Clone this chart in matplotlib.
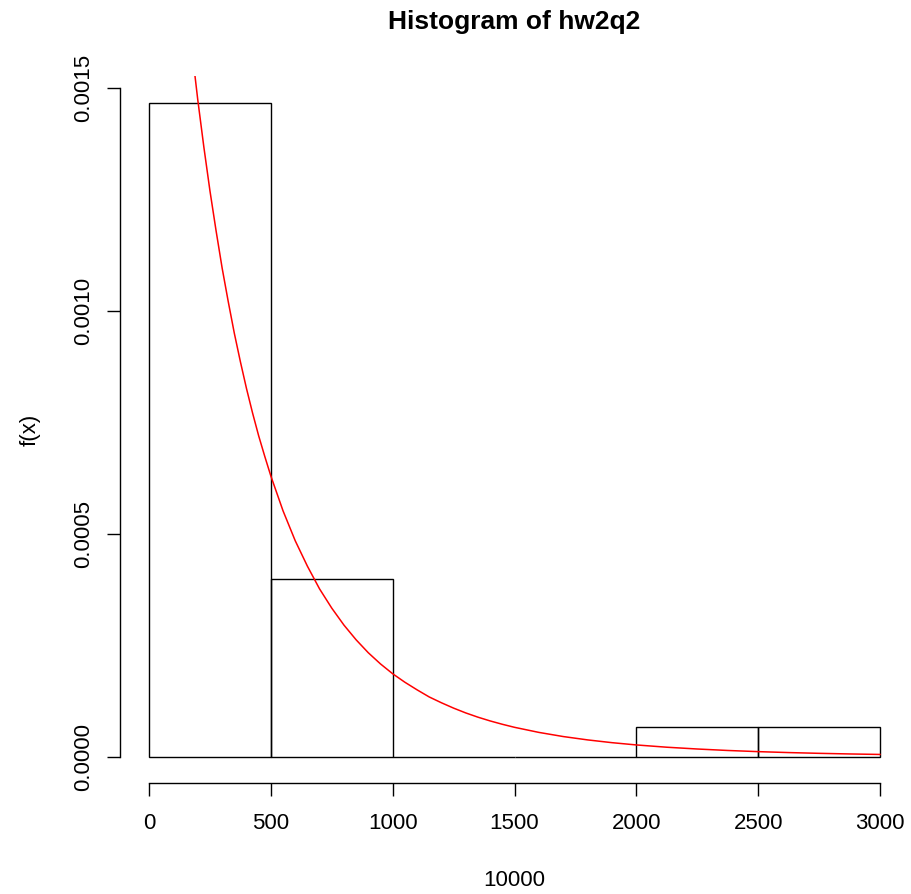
import numpy as np
import matplotlib
matplotlib.use("Agg")
import matplotlib.pyplot as plt

plt.rcParams["font.family"] = ["Liberation Sans", "DejaVu Sans"]

# --- histogram data (hw2q2, n = 30, breaks of 500) ---
breaks = [0, 500, 1000, 1500, 2000, 2500, 3000]
counts = [22, 6, 0, 0, 1, 1]
n_obs = 30

# --- fitted density curve ---
curve_x = [150, 175, 200, 225, 250, 275, 300, 325, 350, 375, 400, 425, 450, 475,
           500, 550, 600, 650, 700, 750, 800, 850, 900, 950, 1000, 1050, 1100,
           1150, 1200, 1250, 1300, 1350, 1400, 1450, 1500, 1600, 1700, 1800,
           1900, 2000, 2125, 2250, 2375, 2500, 2625, 2750, 2875, 3000]
curve_y = [0.001716, 0.001590, 0.001473, 0.001367, 0.001269, 0.001180, 0.001096,
           0.001021, 0.000950, 0.000886, 0.000826, 0.000771, 0.000720, 0.000674,
           0.000630, 0.000552, 0.000485, 0.000428, 0.000377, 0.000334, 0.000296,
           0.000263, 0.000234, 0.000209, 0.000187, 0.000168, 0.000151, 0.000135,
           0.000122, 0.000110, 0.0000992, 0.0000897, 0.0000813, 0.0000738,
           0.0000670, 0.0000556, 0.0000463, 0.0000388, 0.0000326, 0.0000275,
           0.0000224, 0.0000184, 0.0000151, 0.0000125, 0.0000104, 0.0000087,
           0.0000073, 0.0000062]

x_ticks = [0, 500, 1000, 1500, 2000, 2500, 3000]
y_ticks = [0.0, 0.0005, 0.0010, 0.0015]
y_tick_labels = ["0.0000", "0.0005", "0.0010", "0.0015"]

width = breaks[1] - breaks[0]
density = [c / (n_obs * width) for c in counts]

W, H = 911, 894
fig = plt.figure(figsize=(W / 100, H / 100), dpi=100)

# plot region in pixels (R style, 4% padding on each side)
left, right, top, bottom = 119.8, 909.2, 76.4, 783.4
ax = fig.add_axes([left / W, 1 - bottom / H, (right - left) / W, (bottom - top) / H])

ax.bar(breaks[:-1], density, width=width, align="edge", fill=False,
       edgecolor="black", linewidth=1.0)
ax.plot(curve_x, curve_y, color="red", lw=1.1)

ymax = max(density)
ax.set_xlim(-0.04 * 3000, 1.04 * 3000)
ax.set_ylim(-0.04 * ymax, 1.04 * ymax)

for s in ["top", "right"]:
    ax.spines[s].set_visible(False)
ax.spines["bottom"].set_bounds(0, 3000)
ax.spines["left"].set_bounds(0, 0.0015)
ax.spines["bottom"].set_linewidth(1.0)
ax.spines["left"].set_linewidth(1.0)

ax.set_xticks(x_ticks)
ax.set_xticklabels([str(t) for t in x_ticks])
ax.set_yticks(y_ticks)
ax.set_yticklabels(y_tick_labels, rotation=90, va="center")
ax.tick_params(axis="x", length=9.5, width=1.0, pad=12, labelsize=16)
ax.tick_params(axis="y", length=9.5, width=1.0, pad=9, labelsize=16)

fig.text(514.5 / W, 1 - 22 / H, "Histogram of hw2q2", ha="center", va="center",
         fontsize=19, fontweight="bold")
fig.text(514.5 / W, 1 - 880 / H, "10000", ha="center", va="center", fontsize=16)
fig.text(30 / W, 1 - 430 / H, "f(x)", ha="center", va="center", rotation=90,
         fontsize=16)

fig.savefig("out.png", dpi=100)
